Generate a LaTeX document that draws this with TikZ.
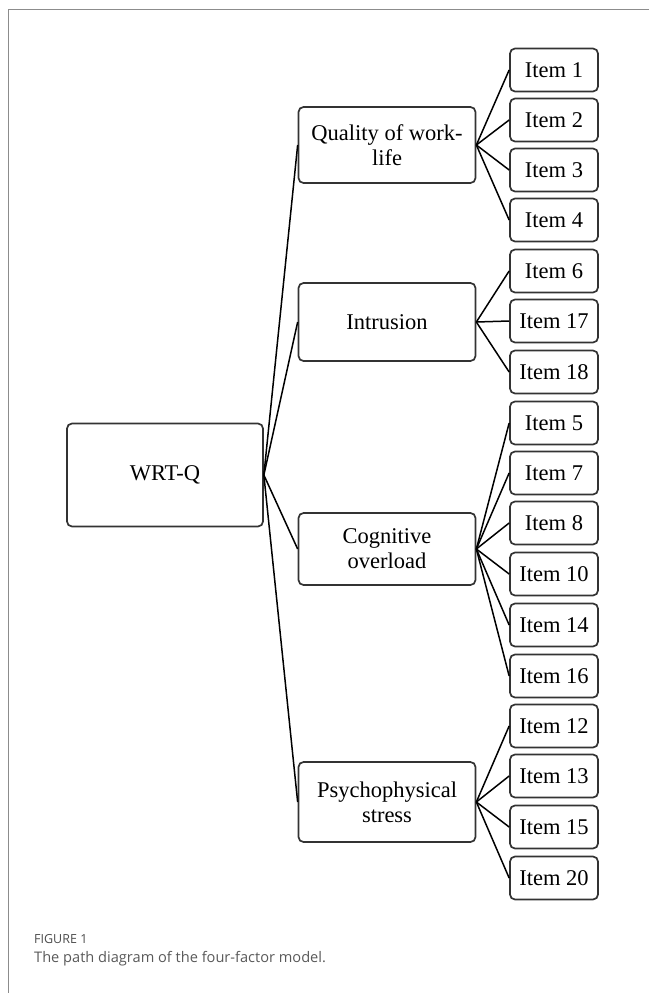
\documentclass[tikz,border=0pt]{standalone}
\usepackage{fontspec}
\setmainfont{Liberation Serif}
\newfontfamily\captionfont{Open Sans}

\begin{document}
\begin{tikzpicture}[
                x=1pt, y=-1pt,
                box/.style={rectangle,rounded corners=5pt,draw=black!80,line width=1.7pt,inner sep=2pt,font=\fontsize{22.5}{25}\selectfont},
                item/.style={box,minimum width=88pt,minimum height=43pt},
                factor/.style={box,minimum width=177pt,minimum height=76pt,align=center},
                link/.style={line width=1.5pt},
            ]
            \useasboundingbox (0,0) rectangle (649,993);

            % Frame
            \draw[black!45,line width=0.8pt] (649,9) -- (8,9) -- (8,993);

            % Define nodes
            \node[box,minimum width=196pt,minimum height=103pt] (WRT) at (165,475) {WRT-Q};

            \node[factor] (F1) at (387,145) {Quality of work-\\life};
            \node[factor,minimum height=78pt] (F2) at (387,322) {Intrusion};
            \node[factor,minimum height=72pt] (F3) at (387,549) {Cognitive\\overload};
            \node[factor,minimum height=80pt] (F4) at (387,802) {Psychophysical\\stress};

            \node[item] (I1) at (554,70) {Item 1};
            \node[item] (I2) at (554,120) {Item 2};
            \node[item] (I3) at (554,170) {Item 3};
            \node[item] (I4) at (554,220) {Item 4};
            \node[item] (I6) at (554,271) {Item 6};
            \node[item] (I17) at (554,321) {Item 17};
            \node[item] (I18) at (554,372) {Item 18};
            \node[item] (I5) at (554,423) {Item 5};
            \node[item] (I7) at (554,473) {Item 7};
            \node[item] (I8) at (554,523) {Item 8};
            \node[item] (I10) at (554,574) {Item 10};
            \node[item] (I14) at (554,625) {Item 14};
            \node[item] (I16) at (554,676) {Item 16};
            \node[item] (I12) at (554,726) {Item 12};
            \node[item] (I13) at (554,776) {Item 13};
            \node[item] (I15) at (554,827) {Item 15};
            \node[item] (I20) at (554,878) {Item 20};

            % Draw connections
            \foreach \f in {F1,F2,F3,F4}
                \draw[link] (WRT.east) -- (\f.west);
            \foreach \i in {I1,I2,I3,I4}
                \draw[link] (F1.east) -- (\i.west);
            \foreach \i in {I6,I17,I18}
                \draw[link] (F2.east) -- (\i.west);
            \foreach \i in {I5,I7,I8,I10,I14,I16}
                \draw[link] (F3.east) -- (\i.west);
            \foreach \i in {I12,I13,I15,I20}
                \draw[link] (F4.east) -- (\i.west);

            % Caption
            \node[anchor=base west,inner sep=0pt,text=black!70,font=\captionfont\fontsize{12.5}{15}\selectfont] (FIG) at (34,943) {FIGURE 1};
            \node[anchor=base west,inner sep=0pt,text=black!65,font=\captionfont\fontsize{14.6}{18}\selectfont] (CAP) at (34,962) {The path diagram of the four-factor model.};

            \end{tikzpicture}
\end{document}
